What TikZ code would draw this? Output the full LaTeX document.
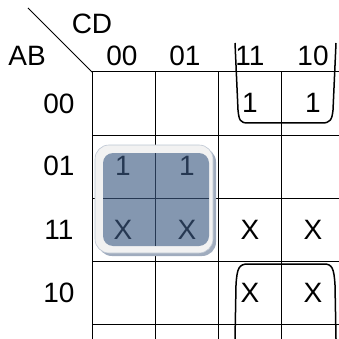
\documentclass[tikz,border=0pt]{standalone}
\usepackage{fontspec}
\setmainfont{Liberation Sans}
\usetikzlibrary{positioning}
\definecolor{grpfill}{RGB}{132,151,176}
\definecolor{grpline}{RGB}{38,56,82}
\definecolor{grpring}{RGB}{242,242,242}
\definecolor{grpshadow}{RGB}{160,172,190}
\tikzset{
  lbl/.style={font=\fontsize{28}{34}\selectfont, inner sep=0pt},
  cell/.style={lbl, text=#1},
  cell/.default=black,
  gridline/.style={line width=1pt},
  brace/.style={line width=1.5pt},
}

\begin{document}
\begin{tikzpicture}[x=1pt, y=-1pt]
  \useasboundingbox (0,0) rectangle (339,339);
  % grid
  \foreach \x in {92,155,218,281} \draw[gridline] (\x,72) -- (\x,339);
  \foreach \y in {72,135,198,261,324} \draw[gridline] (92,\y) -- (339,\y);
  \draw[gridline] (28,8) -- (92,72);
  % headings
  \node[lbl] (cd) at (92,24) {CD};
  \node[lbl] (ab) at (27,56) {AB};
  \foreach \v/\x in {00/122,01/185,11/250,10/313} \node[lbl] (c\v) at (\x,56) {\v};
  \foreach \v/\y in {00/104,01/166,11/230,10/293} \node[lbl] (r\v) at (59,\y) {\v};
  % group
  \fill[grpshadow, rounded corners=14pt] (98,148) rectangle (216,256);
  \draw[grpshadow!70, line width=0.6pt, fill=grpring, rounded corners=14pt] (95,145) rectangle (213,253);
  \fill[grpfill, rounded corners=10pt] (103,153) rectangle (209,246);
  \draw[grpline, line width=1pt] (155,153) -- (155,246) (103,198) -- (209,198);
  % entries
  \node[cell] (e0011) at (250,103) {1};
  \node[cell] (e0010) at (313,103) {1};
  \node[cell=grpline] (e0100) at (123,166) {1};
  \node[cell=grpline] (e0101) at (187,166) {1};
  \node[cell=grpline] (e1100) at (123,230) {X};
  \node[cell=grpline] (e1101) at (187,230) {X};
  \node[cell] (e1111) at (250,230) {X};
  \node[cell] (e1110) at (313,230) {X};
  \node[cell] (e1011) at (250,293) {X};
  \node[cell] (e1010) at (313,293) {X};
  % wrap-around groups
  \draw[brace] (235,43) -- (238,110) .. controls (239,120) and (240,123) .. (248,123)
    -- (322,123) .. controls (330,123) and (332,120) .. (333,110) -- (336,43);
  \draw[brace] (235,339) -- (236,285) .. controls (237,268) and (239,264) .. (248,264)
    -- (324,264) .. controls (332,264) and (334,268) .. (335,285) -- (336,339);
\end{tikzpicture}
\end{document}
